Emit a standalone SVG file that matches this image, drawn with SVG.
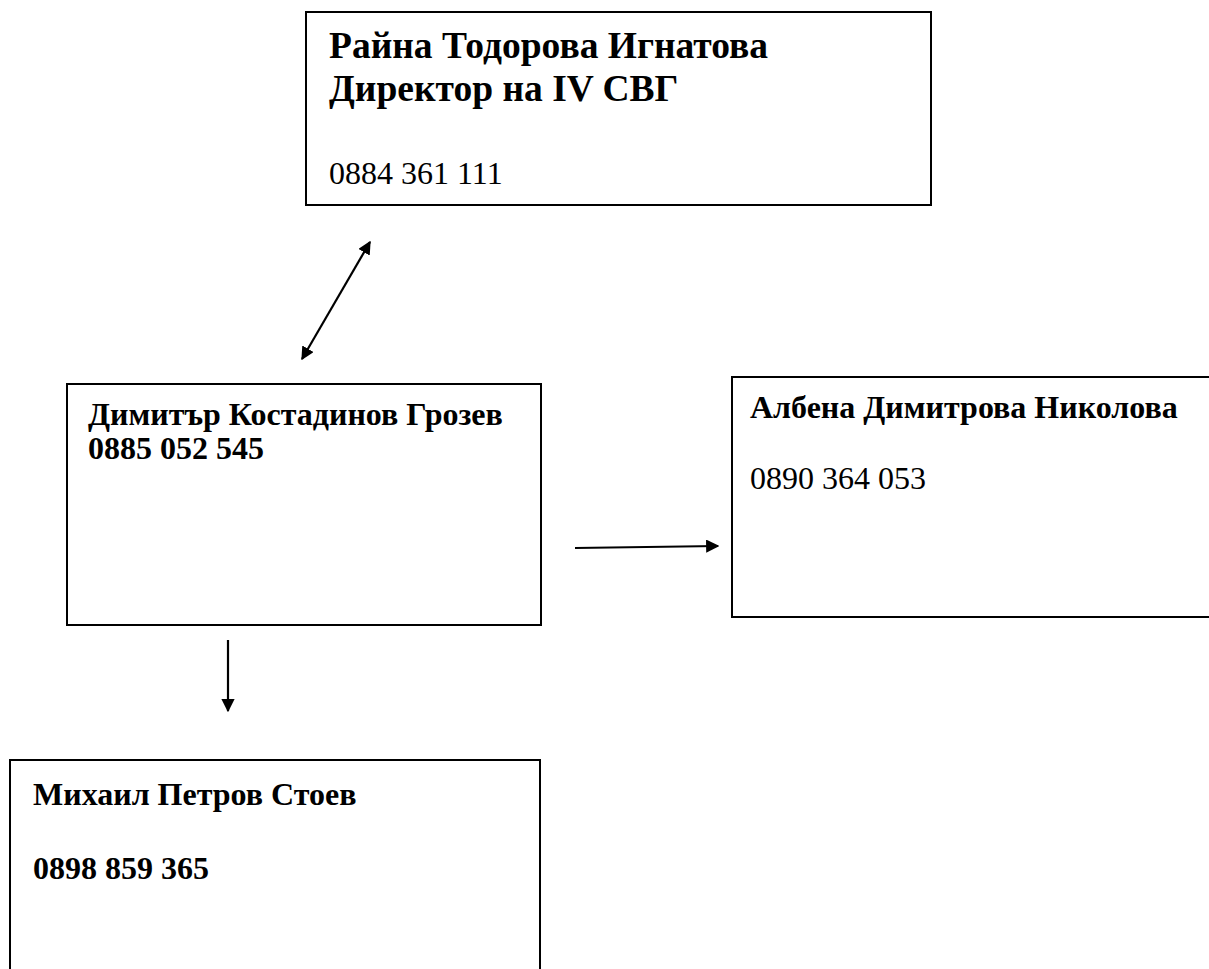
<svg xmlns="http://www.w3.org/2000/svg" width="1209" height="969" viewBox="0 0 1209 969">
<style>
.box{fill:#fff;stroke:#000;stroke-width:2}
.t{font-family:"Liberation Serif","Times New Roman",serif;fill:#000;font-size:32px}
.b{font-weight:bold}
.h{font-size:37.5px}
.con{stroke:#000;stroke-width:2.2;fill:none}
</style>
<defs>
<marker id="ah" viewBox="0 0 10 10" refX="9" refY="5" markerWidth="6" markerHeight="6" orient="auto-start-reverse" markerUnits="strokeWidth">
<path d="M0,0 L10,5 L0,10 z" fill="#000"/>
</marker>
</defs>
<rect width="1209" height="969" fill="#fff"/>
<g id="node-director">
<rect class="box" x="306" y="12" width="625" height="193"/>
<text class="t b h" x="329" y="58">Райна Тодорова Игнатова</text>
<text class="t b h" x="329" y="101">Директор на IV СВГ</text>
<text class="t" x="329" y="184">0884 361 111</text>
</g>
<g id="node-grozev">
<rect class="box" x="67" y="384" width="474" height="241"/>
<text class="t b" x="88" y="425">Димитър Костадинов Грозев</text>
<text class="t b" x="88" y="459">0885 052 545</text>
</g>
<g id="node-nikolova">
<rect class="box" x="732" y="377" width="490" height="240"/>
<text class="t b" x="750" y="418">Албена Димитрова Николова</text>
<text class="t" x="750" y="489">0890 364 053</text>
</g>
<g id="node-stoev">
<rect class="box" x="10" y="760" width="530" height="230"/>
<text class="t b" x="33" y="805">Михаил Петров Стоев</text>
<text class="t b" x="33" y="879">0898 859 365</text>
</g>
<g id="connectors">
<line class="con" x1="302" y1="359" x2="370" y2="242" marker-start="url(#ah)" marker-end="url(#ah)"/>
<line class="con" x1="575" y1="548" x2="718" y2="546" marker-end="url(#ah)"/>
<line class="con" x1="228" y1="640" x2="228" y2="711" marker-end="url(#ah)"/>
</g>
</svg>
